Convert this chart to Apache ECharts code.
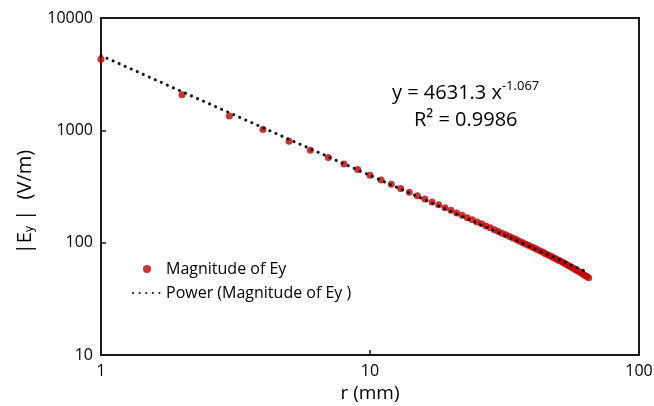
<!DOCTYPE html>
<html>
<head>
<meta charset="utf-8">
<script src="https://cdn.jsdelivr.net/npm/echarts@6/dist/echarts.min.js"></script>
<style>
  html, body { margin: 0; padding: 0; background: #fff; }
  #chart { width: 654px; height: 406px; }
</style>
</head>
<body>
<div id="chart"></div>
<script>
// r (mm)
var radius = [1, 2, 3, 4, 5, 6, 7, 8, 9, 10,
  11, 12, 13, 14, 15, 16, 17, 18, 19, 20,
  21, 22, 23, 24, 25, 26, 27, 28, 29, 30,
  31, 32, 33, 34, 35, 36, 37, 38, 39, 40,
  41, 42, 43, 44, 45, 46, 47, 48, 49, 50,
  51, 52, 53, 54, 55, 56, 57, 58, 59, 60,
  61, 62, 63, 64, 65];
// |Ey| (V/m)
var magnitudeEy = [4300, 2070, 1340, 1015, 800, 665, 572, 501, 448, 398,
  362, 331, 304, 281, 262, 245, 230, 217, 205, 194,
  184, 175, 167, 160, 153, 147, 141, 135.5, 130.5, 126,
  121.5, 117.5, 113.5, 110, 106.5, 103, 100, 97, 94.2, 91.5,
  89, 86.5, 84.2, 82, 79.8, 77.8, 75.8, 73.8, 72, 70.2,
  68.5, 66.8, 65.2, 63.6, 62.1, 60.6, 59.1, 57.7, 56.3, 55,
  53.6, 52.3, 51, 49.9, 48.8];
// power trendline end points (straight on log-log axes)
var trendR = [1, 65];
var trendE = [4631.3, 53.9];

var font = 'Open Sans';
var ink = '#000';

var pts = radius.map(function (r, i) { return [r, magnitudeEy[i]]; });
var trend = trendR.map(function (r, i) { return [r, trendE[i]]; });

var myChart = echarts.init(document.getElementById('chart'));
myChart.setOption({
  backgroundColor: '#fff',
  animation: false,
  grid: {
    left: 101, right: 15, top: 18, bottom: 51,
    outerBoundsMode: 'none',
    show: true, borderColor: '#1a1a1a', borderWidth: 2, backgroundColor: 'transparent'
  },
  xAxis: {
    type: 'log', logBase: 10, min: 1, max: 100,
    name: 'r (mm)', nameLocation: 'middle', nameGap: 29,
    nameTextStyle: { fontFamily: font, fontSize: 19, color: ink },
    axisLine: { lineStyle: { color: '#1a1a1a', width: 2 } },
    axisTick: { inside: true, length: 5, lineStyle: { color: '#1a1a1a', width: 1.5 } },
    axisLabel: { fontFamily: font, fontSize: 16, color: ink, margin: 8, formatter: function (v) { return String(v); } },
    splitLine: { show: false },
    minorTick: { show: false }
  },
  yAxis: {
    type: 'log', logBase: 10, min: 10, max: 10000,
    axisLine: { lineStyle: { color: '#1a1a1a', width: 2 } },
    axisTick: { inside: true, length: 5, lineStyle: { color: '#1a1a1a', width: 1.5 } },
    axisLabel: { fontFamily: font, fontSize: 16, color: ink, margin: 8, formatter: function (v) { return String(v); } },
    splitLine: { show: false },
    minorTick: { show: false }
  },
  legend: {
    orient: 'vertical', left: 127, top: 256, itemGap: 8,
    itemWidth: 28, itemHeight: 8,
    textStyle: { fontFamily: font, fontSize: 16, color: ink },
    data: [
      { name: 'Magnitude of Ey', icon: 'circle' },
      { name: 'Power (Magnitude of Ey )', itemStyle: { opacity: 0 } }
    ]
  },
  graphic: [{
    // y axis title, sits a little below the plot centre as in the source
    type: 'text', x: 25, y: 202, rotation: Math.PI / 2,
    style: {
      text: '|E{s|y} |  (V/m)',
      fontFamily: font, fontSize: 20, fill: ink,
      align: 'center', verticalAlign: 'middle',
      rich: { s: { fontFamily: font, fontSize: 12, fill: ink, verticalAlign: 'bottom', padding: [10, 0, 0, 0] } }
    }
  }, {
    type: 'text', left: 392, top: 80,
    style: {
      text: 'y = 4631.3 x{p|-1.067}',
      fontFamily: font, fontSize: 20, fill: ink,
      rich: { p: { fontFamily: font, fontSize: 13, fill: ink, verticalAlign: 'top', padding: [0, 0, 14, 0] } }
    }
  }, {
    type: 'text', left: 414, top: 110,
    style: { text: 'R² = 0.9986', fontFamily: font, fontSize: 20, fill: ink }
  }],
  series: [{
    name: 'Magnitude of Ey',
    type: 'scatter',
    data: pts,
    symbol: 'circle', symbolSize: 7,
    itemStyle: { color: '#C00000' },
    z: 2
  }, {
    name: 'Power (Magnitude of Ey )',
    type: 'line',
    data: trend,
    symbol: 'none',
    lineStyle: { color: '#111', width: 3, type: [0.1, 6.5], cap: 'round' },
    itemStyle: { color: '#111' },
    z: 3
  }]
});
</script>
</body>
</html>
